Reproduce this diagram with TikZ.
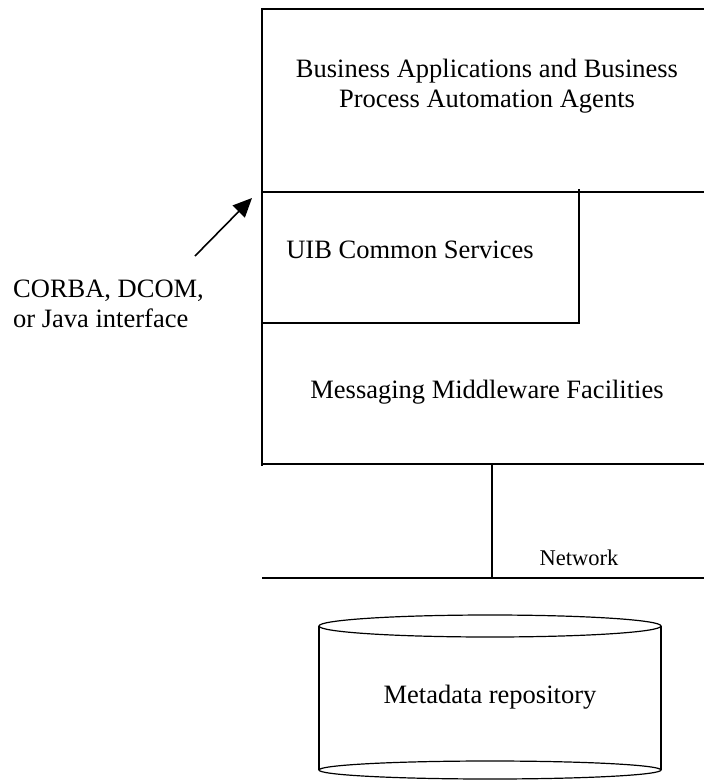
\documentclass[tikz,border=0pt]{standalone}
\usepackage{fontspec}
\setmainfont{Liberation Serif}
\usetikzlibrary{arrows.meta}
\begin{document}
\begin{tikzpicture}[x=1pt,y=-1pt,
  wall/.style={line width=1.6pt},
  thin wall/.style={line width=1.2pt},
  label/.style={font=\fontsize{26.5}{29.5}\selectfont, align=center, inner sep=0pt},
  small label/.style={font=\fontsize{22.5}{25}\selectfont, inner sep=0pt}]
\useasboundingbox (0,0) rectangle (704,780);

% layered stack
\coordinate (tl) at (262,9);
\coordinate (tr) at (704,9);
\coordinate (ml) at (262,192);
\coordinate (mr) at (704,192);
\coordinate (ul) at (262,323);
\coordinate (ur) at (579,323);
\coordinate (ut) at (579,189);
\coordinate (bl) at (262,466);
\coordinate (bl2) at (262,464);
\coordinate (br) at (704,464);
\coordinate (nt) at (492,464);
\coordinate (nb) at (492,578);
\coordinate (nl) at (262,578);
\coordinate (nr) at (704,578);

\draw[wall] (tr) -- (tl) -- (bl);
\draw[wall] (ml) -- (mr);
\draw[wall] (ut) -- (ur) -- (ul);
\draw[wall] (bl2) -- (br);
\draw[wall] (nt) -- (nb);
\draw[wall] (nl) -- (nr);

\node[label] (apps) at (487,86) {Business Applications and Business\\Process Automation Agents};
\node[label] (uib) at (410,250) {UIB Common Services};
\node[label] (msg) at (487,392) {Messaging Middleware Facilities};
\node[small label] (net) at (579,558) {Network};

% interface arrow
\node[label, align=left, anchor=west] (iface) at (13,304) {CORBA, DCOM,\\or Java interface};
\coordinate (atail) at (195,256);
\coordinate (ahead) at (252,198);
\draw[line width=1.6pt, -{Triangle[length=19pt,width=17pt]}] (atail) -- (ahead);

% metadata repository cylinder
\draw[thin wall] (319,626) -- (319,770);
\draw[thin wall] (661,626) -- (661,770);
\draw[thin wall] (490,626) ellipse [x radius=171, y radius=11];
\draw[thin wall] (490,770) ellipse [x radius=171, y radius=9];
\node[label] (repo) at (490,697) {Metadata repository};
\end{tikzpicture}
\end{document}
